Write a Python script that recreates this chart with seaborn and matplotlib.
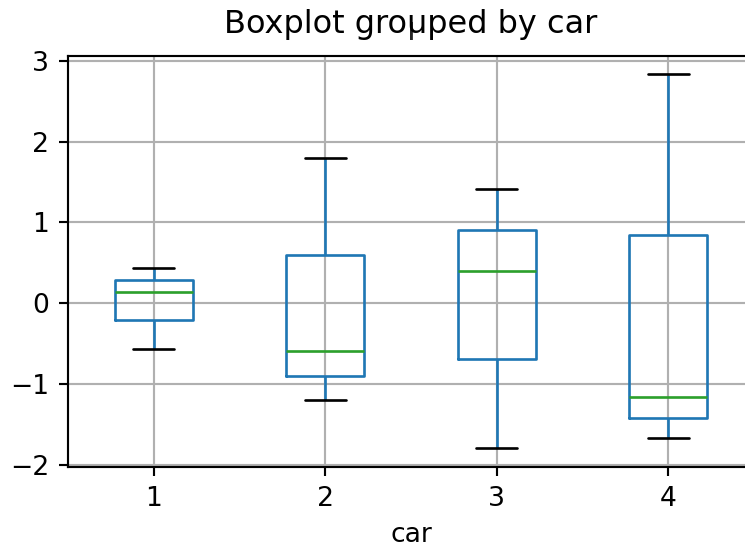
import matplotlib
matplotlib.use("Agg")
import matplotlib.pyplot as plt
import seaborn as sns
import pandas as pd

# Data (five representative values per car group: min, Q1, median, Q3, max)
cars = ["1", "2", "3", "4"]
car1 = [-0.57, -0.21, 0.14, 0.28, 0.44]
car2 = [-1.20, -0.90, -0.59, 0.60, 1.80]
car3 = [-1.80, -0.69, 0.40, 0.90, 1.41]
car4 = [-1.67, -1.42, -1.16, 0.84, 2.84]
yticks = [-2, -1, 0, 1, 2, 3]

groups = [car1, car2, car3, car4]
df = pd.DataFrame({
    "car": [c for c, g in zip(cars, groups) for _ in g],
    "value": [v for g in groups for v in g],
})

sns.set_theme(style="white")
plt.rcParams["font.family"] = ["DejaVu Sans"]

S = 1.92  # scale factor relative to matplotlib defaults
fig = plt.figure(figsize=(7.45, 5.52), dpi=100)
ax = fig.add_axes([68 / 745, (552 - 467) / 552, (754 - 68) / 745, (467 - 56) / 552])

lw = 1.0 * S
sns.boxplot(
    data=df, x="car", y="value", order=cars, ax=ax,
    fill=False, color="#1f77b4", width=0.455, linewidth=lw,
    whis=1.5, capwidths=0.24,
    medianprops=dict(color="#2ca02c", linewidth=lw),
    capprops=dict(color="black", linewidth=lw),
    whiskerprops=dict(color="#1f77b4", linewidth=lw),
    boxprops=dict(color="#1f77b4", linewidth=lw),
)

ax.set_xlim(-0.5, 3.5)
ax.set_ylim(-2.03, 3.06)
ax.set_yticks(yticks)
ax.set_yticklabels(["\u22122", "\u22121", "0", "1", "2", "3"])
ax.grid(True, color="#b0b0b0", linewidth=0.8 * S)
ax.set_axisbelow(True)
for s in ax.spines.values():
    s.set_visible(True)
    s.set_color("black")
    s.set_linewidth(0.8 * S)
ax.tick_params(axis="both", which="both", length=3.5 * S, width=0.8 * S, color="black",
               labelsize=10 * S, labelcolor="black", left=True, bottom=True, pad=3.5 * S)
ax.set_xlabel("car", fontsize=10 * S, color="black", labelpad=4 * S)
ax.set_ylabel("")
ax.set_title("\u0131", fontsize=12 * S, pad=6 * S)

fig.text(411 / 745, 1 - 25 / 552, "Boxplot grouped by car", ha="center", va="center",
         fontsize=12 * S, color="black")

fig.savefig("out.png", dpi=100)
